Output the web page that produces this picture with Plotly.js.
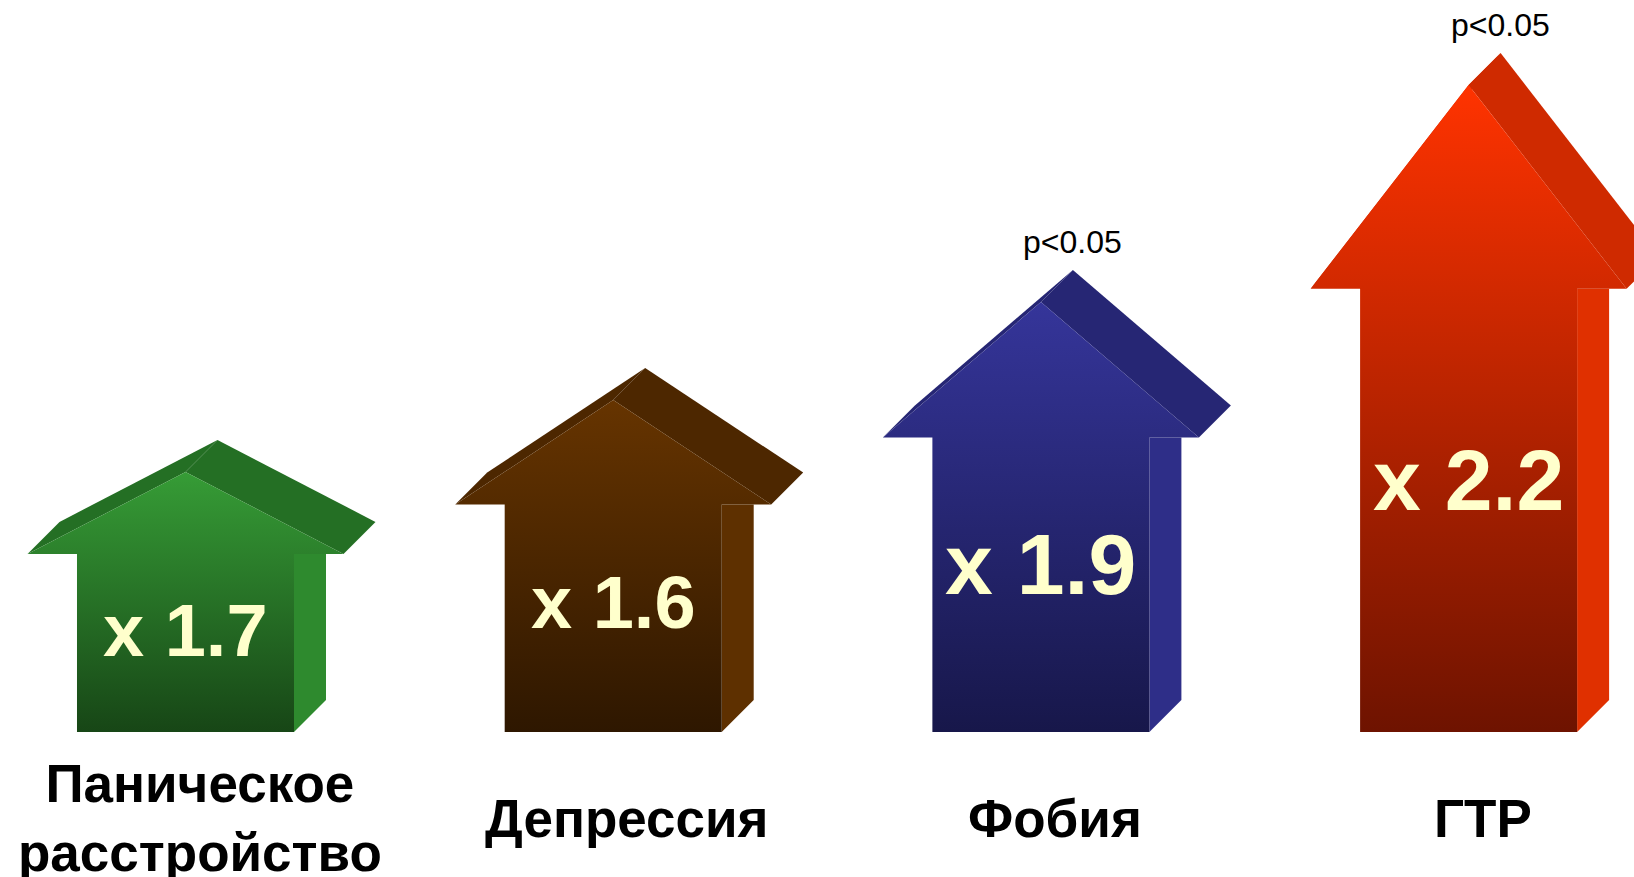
<!DOCTYPE html>
<html>
<head>
<meta charset="utf-8">
<script src="https://cdn.plot.ly/plotly-3.0.1.min.js"></script>
<style>
  html, body { margin: 0; padding: 0; background: #ffffff; }
  #chart { width: 1634px; height: 877px; }
</style>
</head>
<body>
<div id="chart"></div>
<script>
// ---- data ----
const categories = ['Паническое<br>расстройство', 'Депрессия', 'Фобия', 'ГТР'];
const multipliers = [1.7, 1.6, 1.9, 2.2];           // value shown on each arrow
const arrowHeight = [2.60, 3.32, 4.30, 6.47];       // drawn height of each arrow (relative units)
const pLabels = ['', '', 'p<0.05', 'p<0.05'];

// ---- styles ----
const frontTop    = ['#369c36', '#663400', '#35359a', '#ff3300'];
const frontBottom = ['#174616', '#2e1700', '#17174a', '#6e1300'];
const roofColor   = ['#246f24', '#4d2700', '#262674', '#cf2a00'];
const sideColor   = ['#2e8a2e', '#5e3000', '#2e2e88', '#e03000'];
const labelFont   = [74, 74, 86, 86];

// geometry (axis units; x: 1 unit = spacing between categories, y: 1 unit = 100px)
const shaftHalf = 0.2537;
const wingHalf = 0.3694;
const headFrac = 0.315;
const depthX = 0.0748;
const depthY = 0.32;

const traces = [];
const annotations = [];

categories.forEach((cat, i) => {
  const h = arrowHeight[i];
  const yw = h * (1 - headFrac);
  const c = i;
  const FL = [c - wingHalf, yw], FR = [c + wingHalf, yw], A = [c, h];
  const d = (p) => [p[0] + depthX, p[1] + depthY];
  const poly = (pts, color, extra) => {
    const t = {
      type: 'scatter', mode: 'lines', fill: 'toself',
      x: pts.map(p => p[0]).concat([pts[0][0]]),
      y: pts.map(p => p[1]).concat([pts[0][1]]),
      line: { width: 0, color: color },
      fillcolor: color,
      hoverinfo: 'skip', showlegend: false
    };
    return Object.assign(t, extra || {});
  };
  // roof top surfaces
  traces.push(poly([FL, d(FL), d(A), A], roofColor[i]));
  traces.push(poly([A, d(A), d(FR), FR], roofColor[i]));
  // side of shaft
  const sR = c + shaftHalf;
  traces.push(poly([[sR, 0], [sR + depthX, depthY], [sR + depthX, yw], [sR, yw]], sideColor[i]));
  // front face
  const front = [
    [c - shaftHalf, 0], [c - shaftHalf, yw], FL, A, FR, [c + shaftHalf, yw], [c + shaftHalf, 0]
  ];
  traces.push(poly(front, frontTop[i], {
    fillgradient: {
      type: 'vertical',
      colorscale: [[0, frontBottom[i]], [1, frontTop[i]]],
      start: 0, stop: h
    }
  }));

  annotations.push({
    x: c, y: h * 0.39, xref: 'x', yref: 'y',
    text: '<b>x ' + multipliers[i].toFixed(1) + '</b>',
    showarrow: false, xanchor: 'center', yanchor: 'middle',
    font: { family: 'Liberation Sans, Arial, sans-serif', size: labelFont[i], color: '#ffffcc' }
  });
  if (pLabels[i]) {
    annotations.push({
      x: c + depthX, y: h + depthY, xref: 'x', yref: 'y',
      text: pLabels[i], showarrow: false, xanchor: 'center', yanchor: 'middle', yshift: 28,
      font: { family: 'Liberation Sans, Arial, sans-serif', size: 32, color: '#000000' }
    });
  }
  annotations.push({
    x: c, y: -0.86, xref: 'x', yref: 'y', xshift: 14,
    text: '<b>' + cat + '</b>', showarrow: false, xanchor: 'center', yanchor: 'middle',
    font: { family: 'Liberation Sans, Arial, sans-serif', size: 53, color: '#000000' }
  });
});

const layout = {
  width: 1634, height: 877,
  margin: { l: 0, r: 0, t: 0, b: 0, pad: 0 },
  paper_bgcolor: '#ffffff', plot_bgcolor: '#ffffff',
  xaxis: { range: [-0.4337, 3.3867], visible: false, fixedrange: true },
  yaxis: { range: [-1.45, 7.32], visible: false, fixedrange: true },
  showlegend: false,
  annotations: annotations,
  hovermode: false
};

Plotly.newPlot('chart', traces, layout, { displayModeBar: false, staticPlot: true });
</script>
</body>
</html>
